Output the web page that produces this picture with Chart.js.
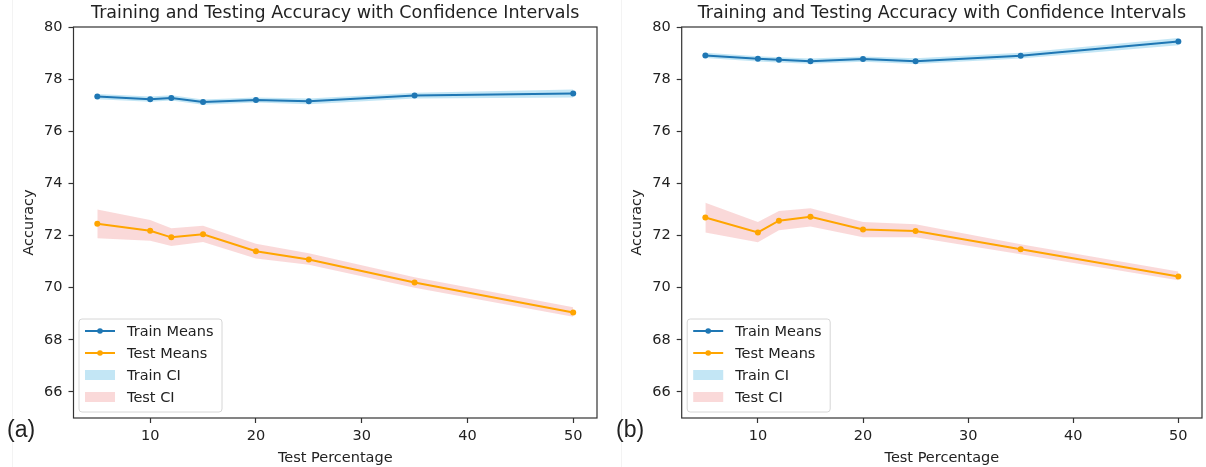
<!DOCTYPE html>
<html>
<head>
<meta charset="utf-8">
<script src="https://cdn.jsdelivr.net/npm/chart.js@4.4.1/dist/chart.umd.min.js"></script>
<style>
  html, body { margin: 0; padding: 0; background: #fff; }
  .wrap { position: relative; width: 1206px; height: 467px; overflow: hidden; }
  .panel { position: absolute; top: 0; width: 603px; height: 467px; }
  .tag { position: absolute; font-family: "Liberation Sans", Arial, sans-serif; font-size: 23px; color: #222; }
  .edge { position: absolute; top: 0; width: 1px; height: 467px; background: #f3f3f3; }
</style>
</head>
<body>
<div class="wrap">
  <div class="edge" style="left:12px"></div>
  <div class="edge" style="left:621px"></div>
  <div class="panel" style="left:0"><canvas id="chartA" width="603" height="467"></canvas></div>
  <div class="panel" style="left:603px"><canvas id="chartB" width="603" height="467"></canvas></div>
  <div class="tag" style="left:7px; top:416px">(a)</div>
  <div class="tag" style="left:616px; top:416px">(b)</div>
</div>
<script>
const testPct = [5, 10, 12, 15, 20, 25, 35, 50];
const xTicks = [10, 20, 30, 40, 50];
const yTicks = [66, 68, 70, 72, 74, 76, 78, 80];

// panel (a)
const trainA = [77.33, 77.23, 77.28, 77.12, 77.2, 77.15, 77.37, 77.45];
const trainLoA = [77.23, 77.13, 77.18, 77.02, 77.1, 77.04, 77.26, 77.3];
const trainHiA = [77.43, 77.33, 77.38, 77.22, 77.3, 77.26, 77.48, 77.6];
const testA = [72.45, 72.18, 71.93, 72.05, 71.4, 71.08, 70.2, 69.05];
const testLoA = [71.9, 71.8, 71.6, 71.75, 71.12, 70.88, 70.0, 68.88];
const testHiA = [73.0, 72.6, 72.28, 72.38, 71.68, 71.32, 70.4, 69.25];

// panel (b)
const trainB = [78.91, 78.78, 78.74, 78.69, 78.77, 78.69, 78.9, 79.44];
const trainLoB = [78.81, 78.68, 78.64, 78.59, 78.67, 78.58, 78.79, 79.3];
const trainHiB = [79.01, 78.88, 78.84, 78.79, 78.87, 78.8, 79.01, 79.58];
const testB = [72.69, 72.12, 72.57, 72.72, 72.23, 72.17, 71.47, 70.43];
const testLoB = [72.12, 71.74, 72.2, 72.35, 71.93, 71.93, 71.28, 70.28];
const testHiB = [73.26, 72.52, 72.94, 73.05, 72.52, 72.43, 71.67, 70.62];

const FONT = "'DejaVu Sans', sans-serif";
const FS = 14.5;
const TXT = "#222";
const BLUE = "#1f77b4";
const ORANGE = "#ffa500";
const TRAIN_FILL = "rgba(135, 206, 235, 0.5)";
const TEST_FILL = "rgba(240, 128, 128, 0.3)";

function pts(ys) {
  return testPct.map((x, i) => ({ x: x, y: ys[i] }));
}

// box around plot area, like matplotlib spines
const frame = {
  id: "frame",
  afterDraw(chart) {
    const a = chart.chartArea, c = chart.ctx;
    c.save();
    c.strokeStyle = "#333";
    c.lineWidth = 1.2;
    c.strokeRect(a.left, a.top, a.right - a.left, a.bottom - a.top);
    c.restore();
  }
};

// legend drawn inside the axes, lower left
const innerLegend = {
  id: "innerLegend",
  afterDraw(chart) {
    const a = chart.chartArea, c = chart.ctx;
    const items = [
      { text: "Train Means", line: BLUE },
      { text: "Test Means", line: ORANGE },
      { text: "Train CI", fill: TRAIN_FILL },
      { text: "Test CI", fill: TEST_FILL }
    ];
    const x0 = a.left + 5.5, y1 = a.bottom - 6;
    const w = 143, h = 93, y0 = y1 - h;
    c.save();
    c.beginPath();
    c.roundRect(x0, y0, w, h, 3);
    c.fillStyle = "rgba(255,255,255,0.8)";
    c.fill();
    c.strokeStyle = "#d6d6d6";
    c.lineWidth = 1;
    c.stroke();
    c.font = FS + "px " + FONT;
    c.textBaseline = "middle";
    items.forEach((it, i) => {
      const cy = y0 + 12 + i * 22;
      if (it.line) {
        c.strokeStyle = it.line;
        c.lineWidth = 2;
        c.beginPath();
        c.moveTo(x0 + 6, cy);
        c.lineTo(x0 + 36, cy);
        c.stroke();
        c.fillStyle = it.line;
        c.beginPath();
        c.arc(x0 + 21, cy, 2.8, 0, Math.PI * 2);
        c.fill();
      } else {
        c.fillStyle = it.fill;
        c.fillRect(x0 + 6, cy - 5, 30, 10);
      }
      c.fillStyle = TXT;
      c.fillText(it.text, x0 + 48, cy + 1);
    });
    c.restore();
  }
};

function makeChart(id, d, yWidth, yTitlePad, padRight) {
  const ctx = document.getElementById(id).getContext("2d");
  return new Chart(ctx, {
    type: "line",
    data: {
      datasets: [
        { label: "Train Means", data: pts(d.train), borderColor: BLUE, backgroundColor: BLUE,
          borderWidth: 2, pointRadius: 3, pointBorderWidth: 0, fill: false, order: 0 },
        { label: "Test Means", data: pts(d.test), borderColor: ORANGE, backgroundColor: ORANGE,
          borderWidth: 2, pointRadius: 3, pointBorderWidth: 0, fill: false, order: 1 },
        { label: "Train CI", data: pts(d.trainHi), borderWidth: 0, pointRadius: 0,
          backgroundColor: TRAIN_FILL, fill: "+1", order: 2 },
        { label: "Train CI low", data: pts(d.trainLo), borderWidth: 0, pointRadius: 0, fill: false, order: 2 },
        { label: "Test CI", data: pts(d.testHi), borderWidth: 0, pointRadius: 0,
          backgroundColor: TEST_FILL, fill: "+1", order: 3 },
        { label: "Test CI low", data: pts(d.testLo), borderWidth: 0, pointRadius: 0, fill: false, order: 3 }
      ]
    },
    options: {
      responsive: false,
      animation: false,
      layout: { padding: { left: 0, right: padRight, top: 0, bottom: 0 } },
      plugins: {
        legend: { display: false },
        tooltip: { enabled: false },
        title: {
          display: true,
          text: "Training and Testing Accuracy with Confidence Intervals",
          fullSize: false,
          color: TXT,
          font: { family: FONT, size: 17.5, weight: "normal", lineHeight: 1.2 },
          padding: { top: 2.5, bottom: 3.5 }
        }
      },
      scales: {
        x: {
          type: "linear",
          min: 2.75,
          max: 52.25,
          afterBuildTicks: (s) => { s.ticks = xTicks.map((v) => ({ value: v })); },
          afterFit: (s) => { s.height = 49; },
          grid: { drawOnChartArea: false, drawTicks: true, tickLength: 5, color: "#333", tickWidth: 1.2 },
          border: { display: false },
          ticks: { color: TXT, font: { family: FONT, size: FS }, padding: 5, maxRotation: 0 },
          title: { display: true, text: "Test Percentage", color: TXT,
                   font: { family: FONT, size: FS }, padding: { top: 0, bottom: 0 } }
        },
        y: {
          min: 65,
          max: 80,
          afterBuildTicks: (s) => { s.ticks = yTicks.map((v) => ({ value: v })); },
          afterFit: (s) => { s.width = yWidth; },
          grid: { drawOnChartArea: false, drawTicks: true, tickLength: 5, color: "#333", tickWidth: 1.2 },
          border: { display: false },
          ticks: { color: TXT, font: { family: FONT, size: FS }, padding: 6 },
          title: { display: true, text: "Accuracy", color: TXT,
                   font: { family: FONT, size: FS }, padding: { top: yTitlePad, bottom: 0 } }
        }
      }
    },
    plugins: [frame, innerLegend]
  });
}

makeChart("chartA", { train: trainA, trainLo: trainLoA, trainHi: trainHiA,
                      test: testA, testLo: testLoA, testHi: testHiA }, 73.5, 21, 6);
makeChart("chartB", { train: trainB, trainLo: trainLoB, trainHi: trainHiB,
                      test: testB, testLo: testLoB, testHi: testHiB }, 78.7, 26, 2);
</script>
</body>
</html>
